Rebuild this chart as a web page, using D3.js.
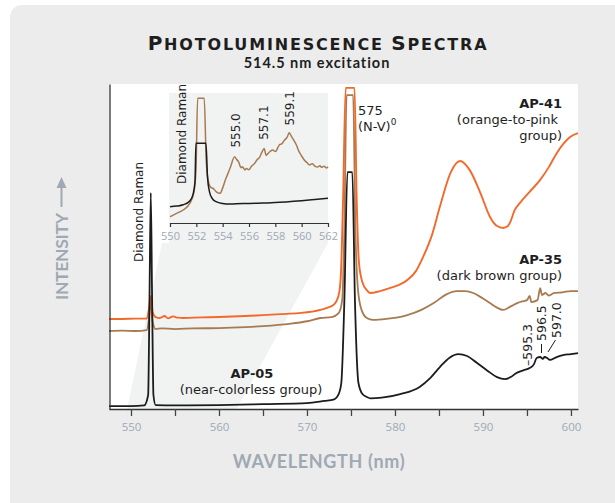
<!DOCTYPE html>
<html><head><meta charset="utf-8">
<script src="https://cdn.jsdelivr.net/npm/d3@7"></script>
<style>body{margin:0;background:#fff;} svg{display:block}</style>
</head><body><svg id="c" width="615" height="503"></svg>
<script>
// ---------------- DATA ----------------
const xTicks = [550, 555, 560, 565, 570, 575, 580, 585, 590, 595, 600];
const xTickLabels = ["550", "", "560", "", "570", "", "580", "", "590", "", "600"];
const insetTicks = [550, 552, 554, 556, 558, 560, 562];

// AP-05 (near-colorless group) [wavelength nm, intensity a.u.]
const ap05 = [[547.5,0.9],[550,0.9],[551.5,1.1],[551.95,4.3],[552.1,33.5],[552.25,66.5],[552.4,33.5],[552.55,4.3],[552.8,1.2],[555,1.1],[560,1.2],[565,1.5],[570,1.8],[572,2.5],[573,2.9],[573.6,4.6],[573.9,8],[574.25,33.5],[574.6,72.9],[575.15,72.9],[575.45,33.5],[575.85,8],[576.3,4.6],[576.8,3.7],[577.2,3.3],[578.5,3.5],[580.6,4.6],[582.8,6.8],[584,9.5],[585.1,12.9],[586.2,15.8],[587.2,16.9],[588.2,16.3],[589.3,14.2],[590.5,11.8],[591.6,9.8],[592.5,9.2],[593.2,9.9],[593.8,11.1],[594.6,11.9],[595.3,12.6],[595.8,13.8],[596.1,15.7],[596.5,16],[596.8,15.4],[597.0,16],[597.3,15.7],[597.6,15.1],[598.3,15.9],[599.1,16.6],[600,16.9],[600.8,17.2]];

// AP-35 (dark brown group)
const ap35 = [[547.5,24],[549,24.1],[550.5,24],[551.8,24.3],[552.05,28],[552.25,33.5],[552.45,27],[552.8,24.6],[553.5,24.8],[555,24.6],[557,24.8],[560,24.9],[563,25.2],[565,25.5],[568,26.2],[570,27],[571.5,28],[572.8,28.3],[573.6,29.5],[574.0,33.5],[574.25,55],[574.5,96.6],[575.25,96.6],[575.5,55],[575.8,36.6],[576.2,30.5],[576.8,28],[577.5,27.4],[579,27.7],[581.4,28.9],[583,30.5],[584.4,32.6],[585.8,35.2],[587,36.3],[588,36.3],[588.9,35.7],[590,34],[590.8,32.6],[591.6,31.2],[592.3,30.5],[593.1,31.5],[593.9,32.6],[594.6,33.2],[595.0,33.5],[595.3,34.8],[595.5,32.9],[596.2,33.5],[596.5,37.2],[596.7,35.1],[597.1,35.7],[597.5,34.9],[598.1,35.7],[599,35.9],[600,36.3],[600.8,36.3]];

// AP-41 (orange-to-pink group)
const ap41 = [[547.5,27.7],[549,27.7],[550.5,27.8],[551.8,27.8],[552.05,31],[552.25,34.8],[552.45,29.8],[552.8,28.3],[553.3,28],[553.8,28.6],[554.2,27.9],[554.8,28.5],[555.3,28.1],[556,28],[558,28.2],[560,28.3],[563,28.6],[565,28.9],[567,29.2],[569,29.5],[571.5,30.5],[573,32],[573.6,35],[573.85,41.2],[574.1,64.3],[574.4,98.8],[575.4,98.8],[575.65,64.3],[575.9,45.2],[576.3,39],[576.8,36.6],[577.2,35.7],[578.2,36.2],[579.4,37.2],[581.4,39.7],[582.4,42.5],[583.2,46.8],[584.2,53.5],[585.1,62.2],[586.3,72.6],[587.4,76.3],[588.5,73.5],[589.7,66.5],[590.8,59.1],[591.6,56.3],[592.3,55.7],[592.8,56.2],[593.1,57.5],[593.6,61.2],[594.2,63.4],[595.3,66.8],[596.5,70.5],[597.5,74.5],[598.4,78.8],[599.2,81.8],[599.9,83.7],[600.8,84.9]];

// Inset (550–562 nm)
const insetAp05 = [[550,12.5],[550.5,13],[551,14],[551.5,17],[551.75,22],[551.9,32],[551.97,61.3],[552.73,61.3],[552.85,35],[553.0,24],[553.2,19],[553.5,16.4],[554,15],[554.5,14.6],[555,14.8],[556,15],[557,15.3],[558,15.8],[559,16.4],[560,17.2],[561,18.1],[562,19]];
const insetAp35 = [[550,4.8],[550.5,7.4],[551,10],[551.5,15.1],[551.8,22.8],[551.97,40],[552.1,95.9],[552.6,95.9],[552.75,48],[552.9,33],[553.1,27.4],[553.3,26.5],[553.5,24.1],[553.8,22.8],[554.0,27],[554.2,33],[554.4,38],[554.6,43.3],[554.9,51],[555.05,49],[555.2,47.2],[555.4,42.5],[555.5,43.3],[555.7,40.8],[555.8,42],[556.0,41],[556.2,43.8],[556.4,45.5],[556.6,48.5],[556.8,50.5],[557.0,54.9],[557.15,57.4],[557.3,52],[557.4,53],[557.6,55],[557.8,56.2],[558.0,55],[558.3,60],[558.5,61],[558.7,63.8],[558.9,66],[559.05,69.5],[559.2,67],[559.4,63.8],[559.6,60],[559.8,54.9],[560.0,51.5],[560.2,48.5],[560.4,46.5],[560.6,44.6],[560.8,45.5],[561.0,43.8],[561.2,43],[561.4,44],[561.5,42.8],[561.7,43.6],[561.9,42.4],[562,43.3]];

// Annotations [label, wavelength, intensity]
const insetPeakLabels = [["555.0",554.95,58],["557.1",557.1,64],["559.1",559.1,75]];

// ---------------- DRAW ----------------
const svg = d3.select("#c");
const ORANGE = "#f26a2b", BROWN = "#a87a50", BLACK = "#1c1c1c";
const GREYTXT = "#9ea9b3";

svg.append("rect").attr("x",10).attr("y",5).attr("width",640).attr("height",540).attr("rx",12).attr("fill","#ececec");

const x = d3.scaleLinear().domain([547.5,600.8]).range([109,578]);
const y = d3.scaleLinear().domain([0,100]).range([409,84]);
const xi = d3.scaleLinear().domain([550,562]).range([170,328]);
const yi = d3.scaleLinear().domain([0,100]).range([223,93]);

svg.append("rect").attr("x",109).attr("y",84).attr("width",469).attr("height",325).attr("fill","#fff");

// inset background + projection
svg.append("path").attr("fill","#f1f2f2")
  .attr("d", `M169,93 L328,93 L328,243 L${x(562)},409 L${x(550)-4},409 L162,243 L169,243 Z`);

const line = d3.line().x(d=>x(d[0])).y(d=>y(d[1])).curve(d3.curveMonotoneX);
const lineI = d3.line().x(d=>xi(d[0])).y(d=>yi(d[1])).curve(d3.curveMonotoneX);

// Main curves
svg.append("path").datum(ap35).attr("d",line).attr("fill","none").attr("stroke",BROWN).attr("stroke-width",1.8).attr("stroke-linejoin","round");
svg.append("path").datum(ap41).attr("d",line).attr("fill","none").attr("stroke",ORANGE).attr("stroke-width",1.9).attr("stroke-linejoin","round");
svg.append("path").datum(ap05).attr("d",line).attr("fill","none").attr("stroke",BLACK).attr("stroke-width",1.8).attr("stroke-linejoin","round");

// Inset curves
svg.append("path").datum(insetAp35).attr("d",lineI).attr("fill","none").attr("stroke",BROWN).attr("stroke-width",1.5).attr("stroke-linejoin","round");
svg.append("path").datum(insetAp05).attr("d",lineI).attr("fill","none").attr("stroke",BLACK).attr("stroke-width",1.5).attr("stroke-linejoin","round");

// Inset axis
const gI = svg.append("g").attr("transform","translate(0,223)")
  .call(d3.axisBottom(xi).tickValues(insetTicks).tickSize(4).tickSizeOuter(0));
gI.select(".domain").attr("stroke","#333").attr("stroke-width",1.2);
gI.selectAll(".tick line").attr("stroke","#333").attr("stroke-width",1.2);
gI.selectAll(".tick text").attr("fill",GREYTXT).attr("font-family","Open Sans").attr("font-size",11).attr("dy","0.9em");

// Main axes
const gx = svg.append("g").attr("transform","translate(0,409)")
  .call(d3.axisBottom(x).tickValues(xTicks).tickFormat((d,i)=>xTickLabels[i]).tickSize(7).tickSizeOuter(0));
gx.select(".domain").attr("stroke","#333").attr("stroke-width",1.6);
gx.selectAll(".tick line").attr("stroke","#444").attr("stroke-width",1.3);
gx.selectAll(".tick text").attr("fill",GREYTXT).attr("font-family","Open Sans").attr("font-size",11.5).attr("dy","1.0em");

const gy = svg.append("g").attr("transform","translate(109.5,0)")
  .call(d3.axisLeft(y).tickValues([]).tickSizeOuter(0));
gy.select(".domain").attr("stroke","#333").attr("stroke-width",1.3);

// Titles
const t = svg.append("text").attr("x",318).attr("y",50).attr("text-anchor","middle")
  .attr("font-family","DejaVu Sans").attr("font-weight",700).attr("fill","#1e1e1e");
t.append("tspan").attr("font-size",20).text("P");
t.append("tspan").attr("font-size",16).text("HOTOLUMINESCENCE ");
t.append("tspan").attr("font-size",20).text("S");
t.append("tspan").attr("font-size",16).text("PECTRA");
function fitWidth(sel, w){
  const n = sel.text().length;
  const L = sel.node().getComputedTextLength();
  sel.attr("letter-spacing", ((w - L)/(n-1)).toFixed(2));
}
fitWidth(t, 339);

const st = svg.append("text").attr("x",317).attr("y",68).attr("text-anchor","middle")
  .attr("font-family","Lato").attr("font-weight",700).attr("font-size",14.5).attr("fill","#1e1e1e")
  .text("514.5 nm excitation");
fitWidth(st, 146);

const xt = svg.append("text").attr("x",319).attr("y",468).attr("text-anchor","middle")
  .attr("font-family","Lato").attr("font-weight",700).attr("font-size",18).attr("fill",GREYTXT);
xt.append("tspan").text("WAVELENGTH ");
xt.append("tspan").text("(nm)");
fitWidth(xt, 172);

const yt = svg.append("text").attr("transform","translate(68,300) rotate(-90)")
  .attr("font-family","Lato").attr("font-weight",700).attr("font-size",17.5).attr("fill",GREYTXT)
  .text("INTENSITY");
fitWidth(yt, 87);
svg.append("line").attr("x1",61.5).attr("x2",61.5).attr("y1",207).attr("y2",186).attr("stroke",GREYTXT).attr("stroke-width",2);
svg.append("path").attr("d","M56.5,188 L66.5,188 L61.5,177 Z").attr("fill",GREYTXT);

// Annotations
const LF = "DejaVu Sans";
function rotText(tx, ty, txt, size){
  return svg.append("text").attr("transform",`translate(${tx},${ty}) rotate(-90)`)
    .attr("font-family",LF).attr("font-size",size||12).attr("fill","#1e1e1e").text(txt);
}
rotText(143, 262, "Diamond Raman", 12);
rotText(185.5, 184, "Diamond Raman", 12);
insetPeakLabels.forEach(p => rotText(xi(p[1])+4.5, yi(p[2]), p[0], 12));

function lab(tx, ty, txt, anchor, bold, size){
  return svg.append("text").attr("x",tx).attr("y",ty).attr("text-anchor",anchor)
    .attr("font-family",LF).attr("font-size",size||13).attr("font-weight",bold?700:400).attr("fill","#1e1e1e").text(txt);
}
lab(358, 115, "575", "start", false, 13);
const nv = lab(358, 131, "(N-V)", "start", false, 13);
nv.append("tspan").attr("font-size",9).attr("dy",-6).text("0");

lab(562, 108, "AP-41", "end", true, 13);
lab(558, 124, "(orange-to-pink", "end", false, 13);
lab(562, 140, "group)", "end", false, 13);
lab(562, 264, "AP-35", "end", true, 13);
lab(562, 280, "(dark brown group)", "end", false, 13);
lab(252, 378, "AP-05", "middle", true, 13);
lab(251, 394, "(near-colorless group)", "middle", false, 13);

// small peak labels with leaders
rotText(532, 366, "\u2013595.3", 12.5);
rotText(546, 341, "596.5", 12.5);
svg.append("line").attr("x1",541.5).attr("x2",541.5).attr("y1",344).attr("y2",353).attr("stroke","#1e1e1e").attr("stroke-width",1);
rotText(561, 338, "597.0", 12.5);
svg.append("line").attr("x1",548).attr("x2",555.5).attr("y1",352).attr("y2",340).attr("stroke","#1e1e1e").attr("stroke-width",1);
</script></body></html>
